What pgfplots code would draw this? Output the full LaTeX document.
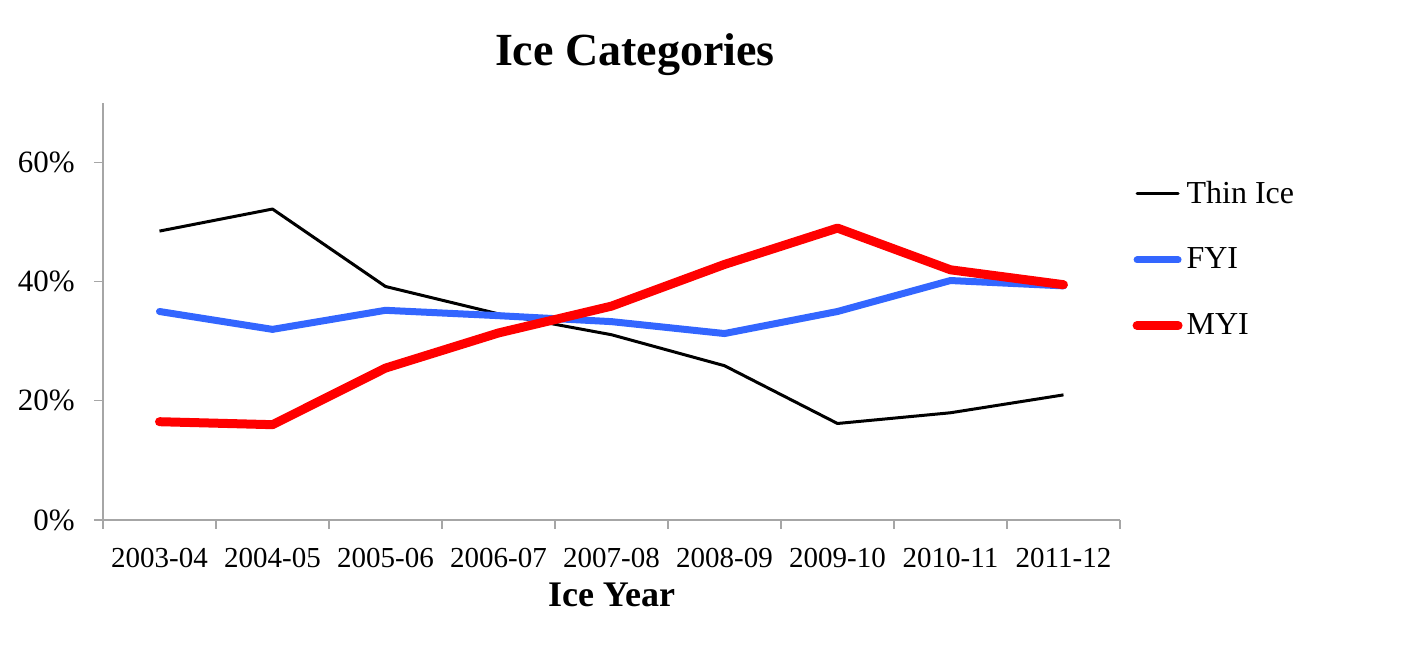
\documentclass[border=0pt]{standalone}
\usepackage{pgfplots}
\pgfplotsset{compat=1.18}
\usepackage{fontspec}
\setmainfont{Liberation Serif}
\definecolor{axgray}{RGB}{166,166,166}
\definecolor{fyiblue}{RGB}{51,102,255}
\definecolor{myired}{RGB}{255,0,0}
\begin{document}
\begin{tikzpicture}
\begin{axis}[
  name=ax, at={(0pt,0pt)}, anchor=south west,
  scale only axis, width=508.5pt, height=208.5pt,
  xmin=-0.5, xmax=8.5, ymin=0, ymax=70,
  axis x line=bottom, axis y line=left,
  axis line style={-, draw=axgray, line width=0.6pt},
  tick align=outside,
  tick style={draw=axgray, line width=0.6pt},
  major tick length=4.5pt, minor tick length=4.5pt,
  xtick={0,1,2,3,4,5,6,7,8},
  xticklabels={2003-04,2004-05,2005-06,2006-07,2007-08,2008-09,2009-10,2010-11,2011-12},
  major x tick style={draw=none},
  minor xtick={-0.5,0.5,1.5,2.5,3.5,4.5,5.5,6.5,7.5,8.5},
  ytick={0,20,40,60},
  yticklabels={0\%,20\%,40\%,60\%},
  /pgf/number format/assume math mode=true,
  xticklabel style={font=\fontsize{14.5}{17}\selectfont, anchor=base, yshift=-19.5pt},
  yticklabel style={font=\fontsize{15.5}{18}\selectfont, anchor=east, inner sep=0pt, xshift=-9.5pt},
  title={Ice Categories},
  title style={at={(axis description cs:0.523,1.062)}, anchor=base, font=\bfseries\fontsize{23}{28}\selectfont},
  xlabel={Ice Year},
  xlabel style={at={(axis description cs:0.5,-0.2086)}, anchor=base, font=\bfseries\fontsize{18}{22}\selectfont},
  legend style={at={(axis description cs:1.012,0.823)}, anchor=north west, draw=none, fill=none, inner sep=0pt,
    font=\fontsize{16}{19}\selectfont, row sep=16.8pt},
  legend cell align=left,
  legend image code/.code={\draw[#1, line cap=round] (0pt,0pt) -- (20.5pt,0pt);},
  clip=false,
]
\addplot[black, line width=1.5pt, line join=round] coordinates {
  (0,48.5) (1,52.2) (2,39.2) (3,34.6) (4,31.1) (5,25.9) (6,16.2) (7,18.0) (8,21.0)};
\addlegendentry{Thin Ice}
\addplot[fyiblue, line width=3.5pt, line cap=round, line join=round] coordinates {
  (0,35.0) (1,32.0) (2,35.2) (3,34.3) (4,33.3) (5,31.3) (6,35.0) (7,40.2) (8,39.3)};
\addlegendentry{FYI}
\addplot[myired, line width=4.5pt, line cap=round, line join=round] coordinates {
  (0,16.5) (1,16.0) (2,25.5) (3,31.4) (4,35.9) (5,42.9) (6,49.0) (7,42.0) (8,39.5)};
\addlegendentry{MYI}
\end{axis}
\pgfresetboundingbox
\path[use as bounding box] (-51.5pt,-71.5pt) rectangle (650pt,260pt);
\end{tikzpicture}
\end{document}
